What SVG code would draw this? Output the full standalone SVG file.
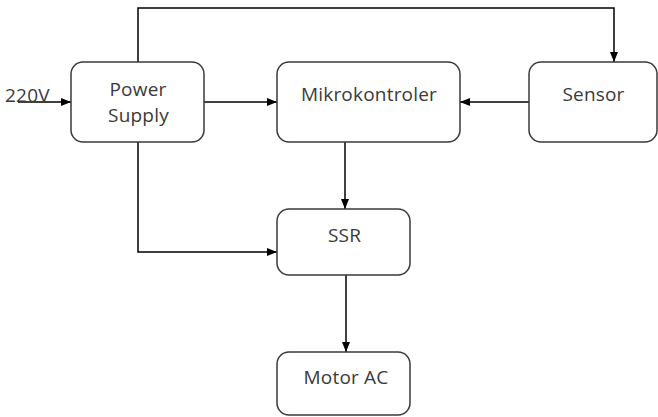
<svg xmlns="http://www.w3.org/2000/svg" width="658" height="417" viewBox="0 0 658 417">
<style>
.box{fill:#fff;stroke:#3a3a3a;stroke-width:1.5}
.t{font-family:"Open Sans","Liberation Sans",sans-serif;font-size:19px;letter-spacing:0.2px;fill:#3a3a3a;text-anchor:middle}
.c{fill:none;stroke:#000;stroke-width:1.5}
</style>
<defs>
<marker id="ah" viewBox="0 0 10 10" refX="10" refY="5" markerWidth="10" markerHeight="10" markerUnits="userSpaceOnUse" orient="auto">
<path d="M0,1 L10,5 L0,9 Z" fill="#000"/>
</marker>
</defs>
<g id="connectors">
<path class="c" d="M18,102 H71" marker-end="url(#ah)"/>
<path class="c" d="M204,102 H277" marker-end="url(#ah)"/>
<path class="c" d="M529,102 H460" marker-end="url(#ah)"/>
<path class="c" d="M138,62 V8 H614 V62" marker-end="url(#ah)"/>
<path class="c" d="M345,142 V209" marker-end="url(#ah)"/>
<path class="c" d="M138,142 V252 H277" marker-end="url(#ah)"/>
<path class="c" d="M346,275 V352" marker-end="url(#ah)"/>
</g>
<text class="t" x="5" y="102" style="text-anchor:start">220V</text>
<g id="power-supply">
<rect class="box" x="71" y="62" width="133" height="80" rx="12"/>
<text class="t" x="138" y="96">Power</text>
<text class="t" x="138.5" y="122">Supply</text>
</g>
<g id="mikrokontroler">
<rect class="box" x="277" y="62" width="183" height="80" rx="12"/>
<text class="t" x="369" y="101">Mikrokontroler</text>
</g>
<g id="sensor">
<rect class="box" x="529" y="62" width="128" height="80" rx="12"/>
<text class="t" x="593.5" y="101">Sensor</text>
</g>
<g id="ssr">
<rect class="box" x="277" y="209" width="133" height="66" rx="12"/>
<text class="t" x="344.5" y="242">SSR</text>
</g>
<g id="motor-ac">
<rect class="box" x="277" y="352" width="133" height="63" rx="12"/>
<text class="t" x="346" y="384">Motor AC</text>
</g>
</svg>
